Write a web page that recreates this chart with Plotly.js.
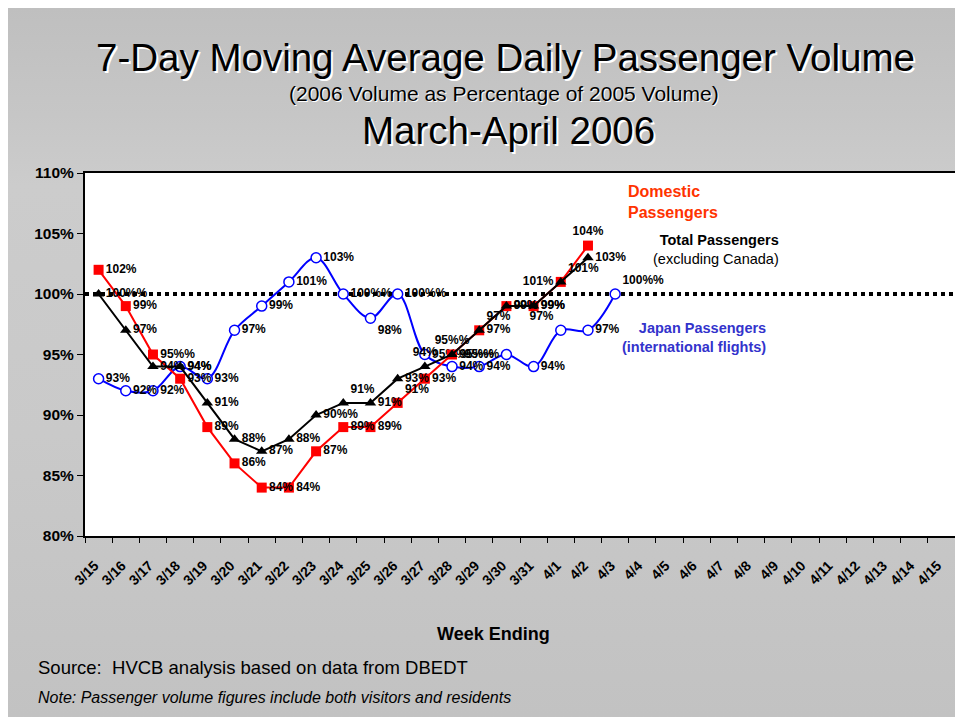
<!DOCTYPE html>
<html>
<head>
<meta charset="utf-8">
<script src="https://cdn.plot.ly/plotly-3.0.1.min.js"></script>
<style>
  html, body { margin: 0; padding: 0; background: #ffffff; }
  #wrap { position: relative; width: 955px; height: 719px; overflow: hidden; }
  #bg { position: absolute; left: 8px; top: 8px; width: 947px; height: 709px;
        background: linear-gradient(to bottom, #bfbfbf 0%, #c6c6c6 15%, #cccccc 25%, #c9c9c9 60%, #c2c2c2 100%); }
  #chart { position: absolute; left: 0; top: 0; width: 955px; height: 719px; }
</style>
</head>
<body>
<div id="wrap"><div id="bg"></div><div id="chart"></div></div>
<script>
// ---- data ----
const weeks = ["3/15","3/16","3/17","3/18","3/19","3/20","3/21","3/22","3/23","3/24",
               "3/25","3/26","3/27","3/28","3/29","3/30","3/31","4/1","4/2","4/3",
               "4/4","4/5","4/6","4/7","4/8","4/9","4/10","4/11","4/12","4/13","4/14","4/15"];
const domesticPct = [102, 99, 95, 93, 89, 86, 84, 84, 87, 89, 89, 91, 93, 95, 97, 99, 99, 101, 104];
const totalPct    = [100, 97, 94, 94, 91, 88, 87, 88, 90, 91, 91, 93, 94, 95, 97, 99, 99, 101, 103];
const japanPct    = [93, 92, 92, 94, 93, 97, 99, 101, 103, 100, 98, 100, 95, 94, 94, 95, 94, 97, 97, 100];
const yTicks = [80, 85, 90, 95, 100, 105, 110];
const referenceLevel = 100;

// ---- label placement (style) ----
function positions(n, overrides) {
  const a = new Array(n).fill("middle right");
  Object.keys(overrides).forEach(k => { a[+k] = overrides[k]; });
  return a;
}
const domPos   = positions(domesticPct.length, {11: "top right", 17: "middle left", 18: "top center"});
const totPos   = positions(totalPct.length, {9: "top right", 12: "top center", 13: "top center", 14: "top right", 17: "top right"});
const japPos   = positions(japanPct.length, {10: "bottom right", 15: "middle left", 17: "top left", 19: "top right"});

const SANS = "Liberation Sans, Arial, sans-serif";
const labelFont = {family: SANS, size: 12, weight: "bold", color: "#000000"};

const traces = [
  {
    x: weeks.slice(0, japanPct.length), y: japanPct, type: "scatter",
    mode: "lines+markers+text", name: "Japan",
    line: {color: "#0000FF", width: 2, shape: "spline", smoothing: 1},
    marker: {symbol: "circle", size: 10, color: "#FFFFFF", line: {color: "#0000FF", width: 1.5}},
    texttemplate: "%{y}%", textposition: japPos, textfont: labelFont,
    cliponaxis: false, hoverinfo: "skip"
  },
  {
    x: weeks.slice(0, domesticPct.length), y: domesticPct, type: "scatter",
    mode: "lines+markers+text", name: "Domestic",
    line: {color: "#FF0000", width: 2},
    marker: {symbol: "square", size: 10, color: "#FF0000"},
    texttemplate: "%{y}%", textposition: domPos, textfont: labelFont,
    cliponaxis: false, hoverinfo: "skip"
  },
  {
    x: weeks.slice(0, totalPct.length), y: totalPct, type: "scatter",
    mode: "lines+markers+text", name: "Total",
    line: {color: "#000000", width: 2},
    marker: {symbol: "triangle-up", size: 10, color: "#000000"},
    texttemplate: "%{y}%", textposition: totPos, textfont: labelFont,
    cliponaxis: false, hoverinfo: "skip"
  }
];

// pixel -> paper helpers (plot area: x 85..955, y 173..536)
const L = 85, R = 955, T = 173, B = 536;
const px = v => (v - L) / (R - L);
const py = v => (B - v) / (B - T);
const shadow = "2px 2px 0px #ffffff";

const layout = {
  width: 955, height: 719,
  margin: {l: L, r: 955 - R, t: T, b: 719 - B, pad: 0},
  paper_bgcolor: "rgba(0,0,0,0)",
  plot_bgcolor: "#FFFFFF",
  showlegend: false,
  xaxis: {
    type: "category", categoryorder: "array", categoryarray: weeks,
    range: [-0.5, weeks.length - 0.5], fixedrange: true,
    showline: true, linecolor: "#000000", linewidth: 2, mirror: true,
    showgrid: false, zeroline: false,
    ticks: "outside", tickson: "boundaries", ticklen: 5, tickwidth: 1, tickcolor: "#000000",
    tickangle: -45, tickfont: {family: SANS, size: 14, weight: "bold", color: "#000000"},
    ticklabelstandoff: 14, ticklabelshift: -4,
    automargin: false
  },
  yaxis: {
    range: [80, 110], tickvals: yTicks, ticktext: yTicks.map(v => v + "%"),
    showline: true, linecolor: "#000000", linewidth: 2,
    showgrid: false, zeroline: false,
    ticks: "outside", ticklen: 6, tickwidth: 1, tickcolor: "#000000",
    tickfont: {family: SANS, size: 15.5, weight: "bold", color: "#000000"},
    automargin: false, fixedrange: true
  },
  shapes: [
    {type: "line", xref: "paper", yref: "y", x0: 0, x1: 1, y0: referenceLevel, y1: referenceLevel,
     line: {color: "#000000", width: 4, dash: "4px,4px"}, layer: "below"}
  ],
  annotations: [
    {text: "7-Day Moving Average Daily Passenger Volume", xref: "paper", yref: "paper",
     x: px(505), y: py(57), xanchor: "center", yanchor: "middle", showarrow: false,
     font: {family: SANS, size: 38.5, color: "#000000", shadow: shadow}},
    {text: "(2006 Volume as Percentage of 2005 Volume)", xref: "paper", yref: "paper",
     x: px(504), y: py(94), xanchor: "center", yanchor: "middle", showarrow: false,
     font: {family: SANS, size: 21, color: "#000000", shadow: "1px 1px 0px #ffffff"}},
    {text: "March-April 2006", xref: "paper", yref: "paper",
     x: px(508), y: py(130), xanchor: "center", yanchor: "middle", showarrow: false,
     font: {family: SANS, size: 38.5, color: "#000000", shadow: shadow}},
    {text: "Domestic<br>Passengers", xref: "paper", yref: "paper",
     x: px(626), y: py(202), xanchor: "left", yanchor: "middle", align: "left", showarrow: false,
     font: {family: SANS, size: 16, weight: "bold", color: "#FF3300"}},
    {text: "<b>Total Passengers</b><br>(excluding Canada)", xref: "paper", yref: "paper",
     x: px(781), y: py(249), xanchor: "right", yanchor: "middle", align: "right", showarrow: false,
     font: {family: SANS, size: 14.5, color: "#000000"}},
    {text: "Japan Passengers<br>(international flights)", xref: "paper", yref: "paper",
     x: px(768), y: py(337), xanchor: "right", yanchor: "middle", align: "right", showarrow: false,
     font: {family: SANS, size: 14.5, weight: "bold", color: "#3333CC"}},
    {text: "Week Ending", xref: "paper", yref: "paper",
     x: px(493), y: py(634), xanchor: "center", yanchor: "middle", showarrow: false,
     font: {family: SANS, size: 18, weight: "bold", color: "#000000"}},
    {text: "Source:  HVCB analysis based on data from DBEDT", xref: "paper", yref: "paper",
     x: px(36), y: py(667), xanchor: "left", yanchor: "middle", showarrow: false,
     font: {family: SANS, size: 18.5, color: "#000000"}},
    {text: "<i>Note: Passenger volume figures include both visitors and residents</i>", xref: "paper", yref: "paper",
     x: px(36), y: py(697), xanchor: "left", yanchor: "middle", showarrow: false,
     font: {family: SANS, size: 16, color: "#000000"}}
  ]
};

Plotly.newPlot("chart", traces, layout, {displayModeBar: false, staticPlot: true});
</script>
</body>
</html>
